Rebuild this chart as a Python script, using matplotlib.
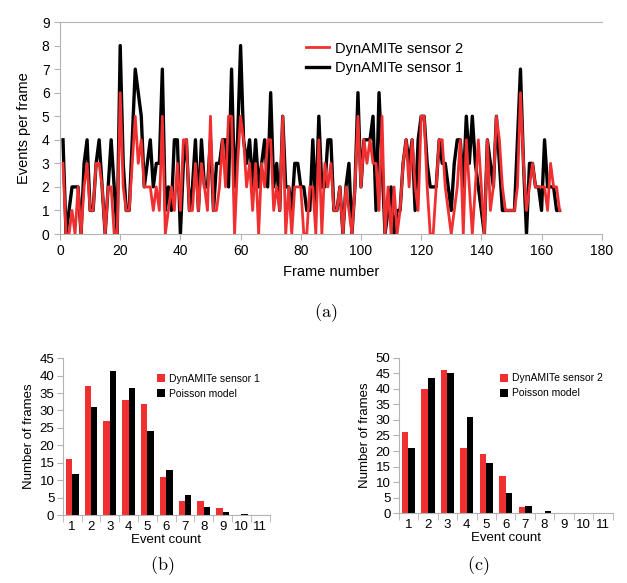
import numpy as np
import matplotlib
matplotlib.use("Agg")
import matplotlib.pyplot as plt

plt.rcParams['font.family'] = ['Liberation Sans', 'DejaVu Sans']
plt.rcParams['mathtext.fontset'] = 'cm'

# per-frame event counts, frames 1..166
sensor1 = [4, 0, 1, 2, 2, 2, 0, 3, 4, 1, 1, 3, 4, 2, 0, 2, 4, 2, 0, 8,
           3, 1, 1, 4, 7, 6, 5, 2, 3, 4, 2,
           3, 3, 7, 1, 2, 1, 4, 4, 0, 3, 4, 1, 2, 4, 1, 4, 2, 2, 4,
           1, 3, 3, 4, 4, 2, 7, 2, 4, 8,
           4, 3, 4, 2, 4, 2, 3, 4, 2, 6, 2, 3, 1, 5, 2, 2, 1, 3, 3, 2,
           2, 1, 1, 4, 1, 5, 2, 2, 4, 4,
           1, 1, 2, 0, 2, 3, 0, 2, 6, 2, 4, 4, 4, 5, 1, 6, 3, 0, 1, 2,
           0, 1, 1, 3, 4, 3, 4, 1, 4, 5,
           5, 3, 2, 2, 2, 4, 3, 3, 2, 1, 3, 4, 4, 2, 5, 3, 5, 3, 2, 1,
           0, 4, 3, 2, 5, 3, 1, 1, 1,
           1, 1, 4, 7, 3, 0, 3, 3, 2, 2, 1, 4, 2, 2, 2, 1, 1]
sensor2 = [3, 0, 0, 1, 0, 2, 0, 2, 3, 1, 1, 3, 3, 2, 0, 2, 2, 0, 0, 6,
           2, 1, 1, 3, 5, 3, 4, 2, 2, 2, 1,
           2, 1, 5, 0, 1, 2, 1, 3, 1, 4, 4, 1, 1, 3, 1, 3, 2, 1, 5,
           1, 1, 2, 4, 2, 5, 5, 0, 3, 5,
           4, 2, 3, 1, 3, 0, 3, 2, 4, 4, 1, 2, 1, 5, 0, 2, 0, 2, 2, 2,
           0, 0, 2, 2, 0, 4, 0, 3, 2, 3,
           1, 1, 2, 0, 2, 1, 0, 2, 5, 2, 4, 3, 4, 3, 3, 1, 5, 0, 2, 0,
           2, 0, 1, 3, 4, 2, 4, 2, 1, 5,
           5, 2, 0, 0, 2, 4, 4, 2, 1, 0, 1, 2, 4, 0, 4, 2, 0, 2, 4, 2,
           0, 4, 1, 2, 5, 4, 2, 1, 1,
           1, 1, 2, 6, 3, 1, 2, 3, 2, 2, 2, 2, 1, 3, 2, 2, 1]
frames = np.arange(1, len(sensor1) + 1)

# histograms
event_counts = [1, 2, 3, 4, 5, 6, 7, 8, 9, 10, 11]
hist_s1 = [16, 37, 27, 33, 32, 11, 4, 4, 2, 0, 0]
poisson_s1 = [11.7, 31, 41.2, 36.4, 24.2, 13, 5.7, 2.3, 0.8, 0.25, 0.07]
hist_s2 = [26, 40, 46, 21, 19, 12, 2, 0, 0, 0, 0]
poisson_s2 = [21, 43.5, 45, 31, 16, 6.6, 2.3, 0.7, 0.2, 0.05, 0.01]

RED = '#f03030'
GRAY = '#b3b3b3'

fig = plt.figure(figsize=(6.27, 5.83), dpi=100)

# ---- (a) time series
ax = fig.add_axes([0.0957, 0.5986, 0.864, 0.3636])
ax.plot(frames, sensor1, color='black', lw=2.4, label='DynAMITe sensor 1', zorder=2)
ax.plot(frames, sensor2, color=RED, lw=2.0, label='DynAMITe sensor 2', zorder=3)
ax.set_xlim(0, 180)
ax.set_ylim(0, 9)
ax.set_xticks(range(0, 181, 20))
ax.set_yticks(range(0, 10))
ax.tick_params(labelsize=10, length=4, color=GRAY, width=0.8)
for s in ['left', 'bottom', 'top']:
    ax.spines[s].set_color(GRAY)
    ax.spines[s].set_linewidth(0.8)
ax.spines['right'].set_visible(False)
ax.set_xlabel('Frame number', fontsize=10.5, labelpad=5)
ax.set_ylabel('Events per frame', fontsize=10.5, labelpad=8)
h, l = ax.get_legend_handles_labels()
ax.legend(h[::-1], l[::-1], loc='upper left', bbox_to_anchor=(0.43, 0.97),
          frameon=False, fontsize=10.5, handlelength=1.6, handletextpad=0.4,
          labelspacing=0.35)
fig.text(0.519, 0.463, r'$\mathrm{(a)}$', ha='center', va='center', fontsize=13)


def hist_panel(rect, data, model, label, ymax, tag, tag_x):
    axh = fig.add_axes(rect)
    x = np.array(event_counts)
    axh.bar(x - 0.17, data, width=0.34, color=RED, label=label, zorder=2)
    axh.bar(x + 0.17, model, width=0.34, color='black', label='Poisson model', zorder=2)
    axh.set_xlim(0.5, 11.5)
    axh.set_ylim(0, ymax)
    axh.set_yticks(range(0, ymax + 1, 5))
    axh.set_xticks(x)
    axh.set_xticks(np.arange(0.5, 12, 1), minor=True)
    axh.tick_params(axis='x', which='major', length=0, labelsize=9.5, pad=4)
    axh.tick_params(axis='x', which='minor', length=5, color=GRAY)
    axh.tick_params(axis='y', labelsize=9.5, length=4, color=GRAY, pad=2)
    for s in ['left', 'bottom']:
        axh.spines[s].set_color(GRAY)
        axh.spines[s].set_linewidth(0.8)
    axh.spines['right'].set_visible(False)
    axh.spines['top'].set_visible(False)
    axh.set_xlabel('Event count', fontsize=9.5, labelpad=1)
    axh.set_ylabel('Number of frames', fontsize=9.5, labelpad=3)
    axh.legend(loc='upper right', bbox_to_anchor=(1.0, 0.96), frameon=False,
               fontsize=7.5, handlelength=0.8, handleheight=0.8,
               handletextpad=0.4, labelspacing=0.5)
    fig.text(tag_x, 0.029, r'$\mathrm{(%s)}$' % tag, ha='center', va='center', fontsize=13)


hist_panel([0.1, 0.1166, 0.330, 0.269], hist_s1, poisson_s1, 'DynAMITe sensor 1', 45, 'b', 0.258)
hist_panel([0.636, 0.1196, 0.341, 0.267], hist_s2, poisson_s2, 'DynAMITe sensor 2', 50, 'c', 0.762)

fig.savefig('out.png', dpi=100)
